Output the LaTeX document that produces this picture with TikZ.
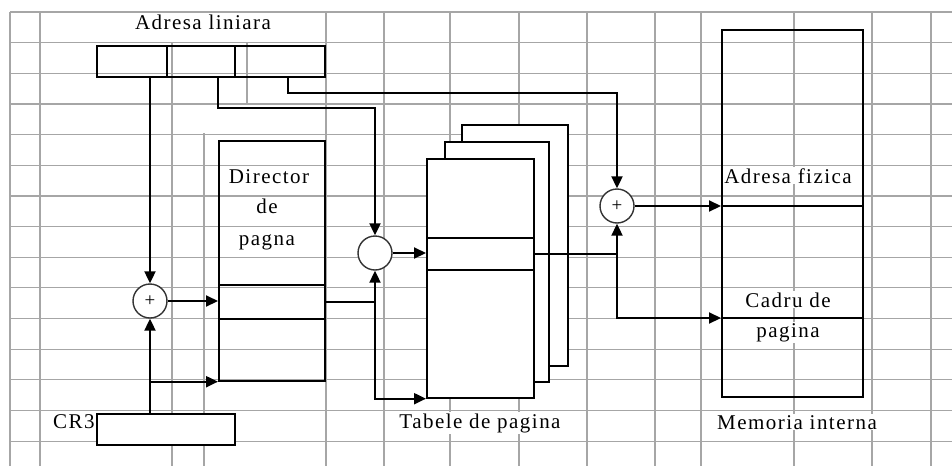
\documentclass[tikz,border=0pt]{standalone}
\usepackage{fontspec}
\setmainfont{Liberation Serif}[LetterSpace=7]
\usetikzlibrary{arrows.meta}
\begin{document}
\begin{tikzpicture}[x=1pt,y=-1pt,
  gridline/.style={draw=gray!70, line width=1.2pt},
  box/.style={draw=black, line width=1.7pt, inner sep=0pt, anchor=north west},
  sheet/.style={box, fill=white},
  sumnode/.style={circle, draw=black!80, line width=1.4pt, minimum size=34pt, inner sep=0pt, fill=white, font=\fontsize{19}{19}\selectfont},
  conn/.style={draw=black, line width=2.1pt},
  arr/.style={conn, -{Triangle[length=12pt,width=11pt]}},
  lbl/.style={fill=white, inner sep=1pt, anchor=base, font=\fontsize{21}{23}\selectfont},
]
\useasboundingbox[fill=white] (0,0) rectangle (952,466);
% grid
\foreach \k in {0,...,14} \draw[gridline] (10,{12+30.65*\k}) -- (952,{12+30.65*\k});
\foreach \x in {10,40,326,384,450,519,587,655,701,794,872,931} \draw[gridline] (\x,12) -- (\x,466);
\draw[gridline] (172,42) -- (172,466);
\draw[gridline] (204,133) -- (204,466);
\draw[gridline] (247,42) -- (247,103);

% linear address
\node[lbl] (title) at (203,29) {Adresa liniara};
\node[box, minimum width=70, minimum height=31] (f1) at (96,45) {};
\node[box, minimum width=68, minimum height=31] (f2) at (166,45) {};
\node[box, minimum width=90, minimum height=31] (f3) at (234,45) {};
\coordinate (f2out) at (218,76);
\coordinate (f3out) at (288,76);

% summing circles
\node[sumnode] (s1) at (150,301) {+};
\node[sumnode] (s2) at (375,253) {};
\node[sumnode] (s3) at (617,206) {+};

% page directory
\node[box, minimum width=106, minimum height=240] (dir) at (218,140) {};
\node[box, minimum width=106, minimum height=34] (dirent) at (218,284) {};
\node[lbl] (dirt1) at (269,183) {Director};
\node[lbl] (dirt2) at (267,213) {de};
\node[lbl] (dirt3) at (267,245) {pagna};

% CR3
\node[lbl, anchor=base west, fill=none] (cr3t) at (52,428) {CR3};
\node[box, fill=white, minimum width=138, minimum height=31] (cr3) at (96,413) {};

% page tables
\node[sheet, minimum width=106, minimum height=241] (back) at (461,124) {};
\node[sheet, minimum width=104, minimum height=240] (mid) at (444,141) {};
\node[sheet, minimum width=107, minimum height=239] (front) at (426,158) {};
\node[box, minimum width=107, minimum height=32] (fent) at (426,237) {};
\node[lbl] (tabt) at (480,428) {Tabele de pagina};

% memory
\node[box, minimum width=141, minimum height=367] (mem) at (721,29) {};
\coordinate (memA) at (721,206);
\coordinate (memB) at (721,318);
\draw[box] (memA) -- (862,206);
\draw[box] (memB) -- (862,318);
\node[lbl] (memt1) at (788,183) {Adresa fizica};
\node[lbl] (memt2) at (788,307) {Cadru de};
\node[lbl] (memt3) at (788,337) {pagina};
\node[lbl] (memt) at (797,429) {Memoria interna};

% connectors
\draw[arr] (s1 |- f1.south) -- (s1.north);
\draw[arr] (f2out) -- (218,108) -- (s2 |- 0,108) -- (s2.north);
\draw[arr] (f3out) -- (288,93) -- (s3 |- 0,93) -- (s3.north);
\draw[arr] (s1.east) -- (s1 -| dir.west);
\draw[arr] (s1 |- cr3.north) -- (s1.south);
\draw[arr] (s1 |- dir.south) -- (dir.south west);
\draw[conn] (dirent.east) -- (s2 |- dirent.east);
\draw[arr] (s2 |- dirent.east) -- (s2.south);
\draw[arr] (s2 |- dirent.east) -- (s2 |- front.south) -- (front.south west);
\draw[arr] (s2.east) -- (s2 -| front.west);
\draw[conn] (fent.east) -- (s3 |- fent.east);
\draw[arr] (s3 |- fent.east) -- (s3.south);
\draw[arr] (s3 |- fent.east) -- (s3 |- memB) -- (memB);
\draw[arr] (s3.east) -- (memA);
\end{tikzpicture}
\end{document}
